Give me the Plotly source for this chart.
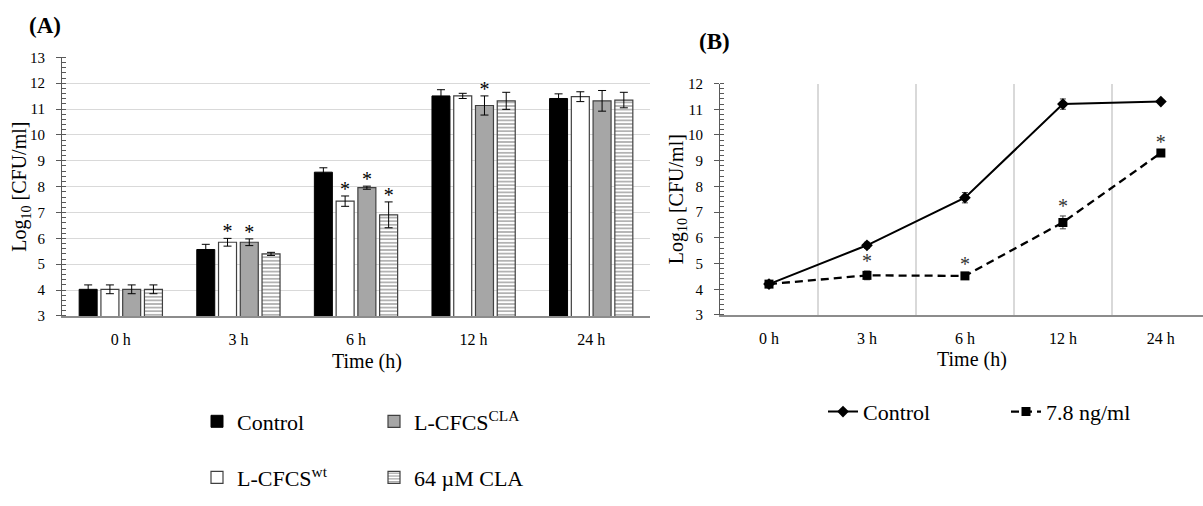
import plotly.graph_objects as go

# ---------------- data ----------------
times = ["0 h", "3 h", "6 h", "12 h", "24 h"]

# Panel A (bars)
ctrl_a = [4.03, 5.57, 8.56, 11.51, 11.41]
ctrl_a_err = [0.17, 0.20, 0.17, 0.24, 0.18]
wt_a = [4.03, 5.85, 7.44, 11.51, 11.48]
wt_a_err = [0.17, 0.15, 0.20, 0.10, 0.19]
cla_a = [4.03, 5.85, 7.96, 11.14, 11.32]
cla_a_err = [0.17, 0.13, 0.06, 0.37, 0.40]
c64_a = [4.03, 5.40, 6.91, 11.32, 11.35]
c64_a_err = [0.17, 0.06, 0.50, 0.33, 0.30]
sig_ctrl_a = [0, 0, 0, 0, 0]
sig_wt_a = [0, 1, 1, 0, 0]
sig_cla_a = [0, 1, 1, 1, 0]
sig_c64_a = [0, 0, 1, 0, 0]

# Panel B (lines)
ctrl_b = [4.20, 5.71, 7.56, 11.20, 11.30]
ctrl_b_err = [0.05, 0.12, 0.20, 0.20, 0.05]
dose_b = [4.20, 4.54, 4.52, 6.60, 9.30]
dose_b_err = [0.05, 0.17, 0.10, 0.25, 0.05]
sig_dose_b = [0, 1, 1, 1, 1]

yticks_a = list(range(3, 14))
yticks_b = list(range(3, 13))

# ---------------- style ----------------
W, H = 1203, 506
FONT = "Liberation Serif, Times New Roman, Times, serif"
idx = list(range(len(times)))

def px_x(p):
    return p / W

def px_y(p):
    return 1 - p / H

def serif(s):
    return '<span style="font-family:Liberation Serif,serif">' + s + '</span>'

bar_w = 0.153
offsets = [-0.354, -0.169, 0.016, 0.201]

fig = go.Figure()

series = [
    ("Control", ctrl_a, ctrl_a_err, sig_ctrl_a,
     dict(color="black", line=dict(color="black", width=1)), "legend"),
    ("L-CFCS<sup>wt</sup>", wt_a, wt_a_err, sig_wt_a,
     dict(color="white", line=dict(color="#404040", width=1.2)), "legend2"),
    ("L-CFCS<sup>CLA</sup>", cla_a, cla_a_err, sig_cla_a,
     dict(color="#a6a6a6", line=dict(color="#404040", width=1.2)), "legend"),
    ("64 µM CLA", c64_a, c64_a_err, sig_c64_a,
     dict(color="white", line=dict(color="#404040", width=1.2),
          pattern=dict(shape="-", fgcolor="black", bgcolor="white", size=3.6, solidity=0.3)),
     "legend2"),
]

for k, (name, vals, errs, sig, marker, leg) in enumerate(series):
    fig.add_trace(go.Bar(
        x=idx, y=vals, name=serif(name), marker=marker,
        offset=offsets[k], width=bar_w,
        error_y=dict(type="data", array=errs, color="black", thickness=1, width=4),
        xaxis="x", yaxis="y", legend=leg,
    ))
    sx = [i + offsets[k] + bar_w / 2 for i, s in zip(idx, sig) if s]
    sy = [v + e + 0.2 for v, e, s in zip(vals, errs, sig) if s]
    if sx:
        fig.add_trace(go.Scatter(
            x=sx, y=sy, mode="text", text=["*"] * len(sx),
            textposition="middle center",
            textfont=dict(family=FONT, size=20, color="black"),
            showlegend=False, hoverinfo="skip", xaxis="x", yaxis="y"))

# Panel B
fig.add_trace(go.Scatter(
    x=idx, y=ctrl_b, name=serif("Control"), mode="lines+markers",
    line=dict(color="black", width=2),
    marker=dict(symbol="diamond", size=9, color="black"),
    error_y=dict(type="data", array=ctrl_b_err, color="#404040", thickness=1, width=3),
    xaxis="x2", yaxis="y2", legend="legend3"))
fig.add_trace(go.Scatter(
    x=idx, y=dose_b, name=serif("7.8 ng/ml"), mode="lines+markers",
    line=dict(color="black", width=2.3, dash="8px,5px"),
    marker=dict(symbol="square", size=9, color="black"),
    error_y=dict(type="data", array=dose_b_err, color="#404040", thickness=1, width=3),
    xaxis="x2", yaxis="y2", legend="legend3"))
bx = [i for i, s in zip(idx, sig_dose_b) if s]
by = [v + e + 0.3 for v, e, s in zip(dose_b, dose_b_err, sig_dose_b) if s]
fig.add_trace(go.Scatter(
    x=bx, y=by, mode="text", text=["*"] * len(bx), textposition="middle center",
    textfont=dict(family=FONT, size=20, color="#333333"),
    showlegend=False, hoverinfo="skip", xaxis="x2", yaxis="y2"))

xtickfont = dict(family=FONT, size=16, color="black")
ytickfont = dict(family=FONT, size=15, color="black")
ydom_a = [px_y(318), px_y(51)]
ydom_b = [px_y(317), px_y(78)]
legfont = dict(family="Liberation Serif", size=22, color="black")

fig.update_layout(
    width=W, height=H,
    margin=dict(l=0, r=0, t=0, b=0),
    paper_bgcolor="white", plot_bgcolor="white",
    font=dict(family=FONT, color="black"),
    barmode="overlay",
    xaxis=dict(domain=[px_x(62), px_x(650)], range=[-0.5, 4.5],
               tickvals=idx, ticktext=times, tickfont=xtickfont,
               showgrid=False, zeroline=False, showline=True,
               linecolor="#8c8c8c", linewidth=1.5, ticks="",
               ticklabelstandoff=8, anchor="y", fixedrange=True),
    yaxis=dict(domain=ydom_a, range=[3, 13], tickvals=yticks_a,
               tickfont=ytickfont, showgrid=True, gridcolor="#d9d9d9", gridwidth=1,
               zeroline=False, showline=True, linecolor="#595959", linewidth=1,
               ticks="outside", ticklen=5, tickcolor="#595959",
               ticklabelstandoff=8,
               minor=dict(dtick=0.2, ticks="inside", ticklen=4, tickcolor="#595959", showgrid=False),
               anchor="x", fixedrange=True),
    xaxis2=dict(domain=[px_x(720), 1.0], range=[-0.5, 4.43],
                tickvals=idx, ticktext=times, tickfont=xtickfont,
                showgrid=False, zeroline=False, showline=True,
                linecolor="#8c8c8c", linewidth=1.5, ticks="",
                ticklabelstandoff=8,
                minor=dict(tick0=0.5, dtick=1, showgrid=True, gridcolor="#d9d9d9", gridwidth=1.5, ticks=""),
                anchor="y2", fixedrange=True),
    yaxis2=dict(domain=ydom_b, range=[3, 12], tickvals=yticks_b,
                tickfont=ytickfont, showgrid=False, zeroline=False,
                showline=True, linecolor="#595959", linewidth=1,
                ticks="outside", ticklen=5, tickcolor="#595959",
                ticklabelstandoff=8,
                minor=dict(dtick=0.2, ticks="inside", ticklen=4, tickcolor="#595959", showgrid=False),
                anchor="x2", fixedrange=True),
    legend=dict(orientation="h", x=px_x(197), y=px_y(427), xanchor="left", yanchor="middle",
                font=legfont, entrywidth=132, entrywidthmode="pixels", bgcolor="rgba(0,0,0,0)"),
    legend2=dict(orientation="h", x=px_x(197), y=px_y(485), xanchor="left", yanchor="middle",
                 font=legfont, entrywidth=132, entrywidthmode="pixels", bgcolor="rgba(0,0,0,0)"),
    legend3=dict(orientation="h", x=px_x(823), y=px_y(417), xanchor="left", yanchor="middle",
                 font=legfont, entrywidth=138, entrywidthmode="pixels", bgcolor="rgba(0,0,0,0)"),
    showlegend=True,
    annotations=[
        dict(text="<b>(A)</b>", x=px_x(45), y=px_y(18), xref="paper", yref="paper",
             xanchor="center", yanchor="middle", showarrow=False,
             font=dict(family=FONT, size=23, color="black")),
        dict(text="<b>(B)</b>", x=px_x(714), y=px_y(35), xref="paper", yref="paper",
             xanchor="center", yanchor="middle", showarrow=False,
             font=dict(family=FONT, size=23, color="black")),
        dict(text="Log<sub>10</sub> [CFU/ml]", x=px_x(21), y=(ydom_a[0] + ydom_a[1]) / 2,
             xref="paper", yref="paper", xanchor="center", yanchor="middle",
             textangle=-90, showarrow=False,
             font=dict(family=FONT, size=20, color="black")),
        dict(text="Log<sub>10</sub> [CFU/ml]", x=px_x(677), y=(ydom_b[0] + ydom_b[1]) / 2,
             xref="paper", yref="paper", xanchor="center", yanchor="middle",
             textangle=-90, showarrow=False,
             font=dict(family=FONT, size=20, color="black")),
        dict(text="Time (h)", x=px_x(367), y=px_y(365), xref="paper", yref="paper",
             xanchor="center", yanchor="middle", showarrow=False,
             font=dict(family=FONT, size=20, color="black")),
        dict(text="Time (h)", x=px_x(972), y=px_y(363), xref="paper", yref="paper",
             xanchor="center", yanchor="middle", showarrow=False,
             font=dict(family=FONT, size=20, color="black")),
    ],
)

fig.write_html("out.html", config={"displayModeBar": False},
               post_script="document.body.style.margin='0px';")
